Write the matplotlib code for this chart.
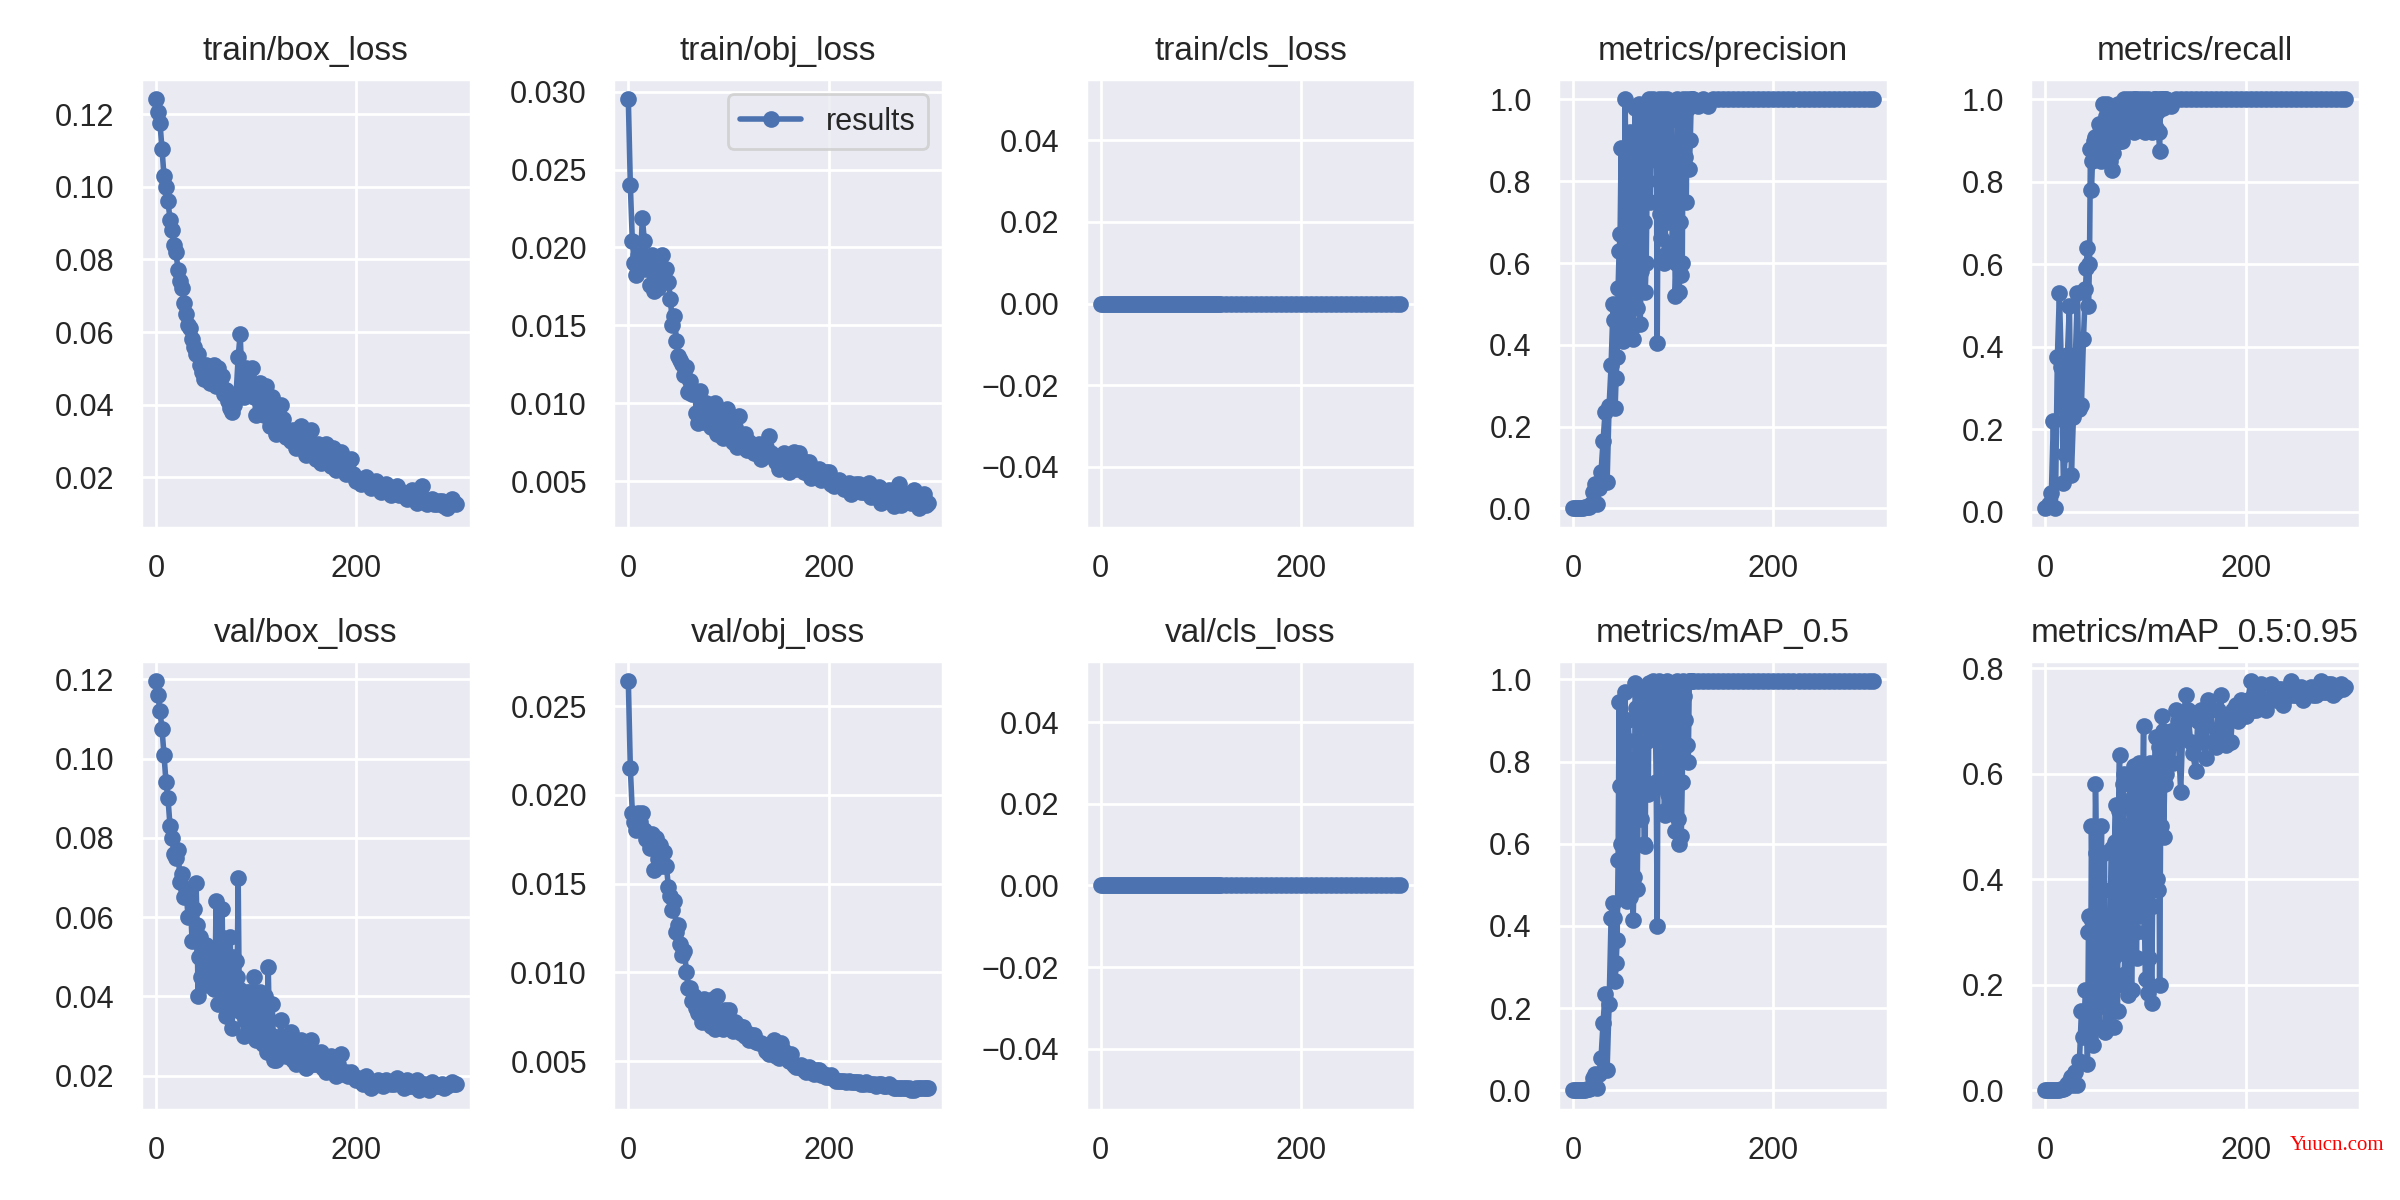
import matplotlib
matplotlib.use("Agg")
import matplotlib.pyplot as plt
import seaborn as sns

# epochs, dense while the curves are still noisy
epochs = [0, 2, 4, 6, 8, 10, 12, 14, 16, 18,
          20, 22, 24, 26, 28, 30, 32, 34, 36, 38,
          40, 42, 44, 46, 48, 50, 52, 54, 56, 58,
          60, 62, 64, 66, 68, 70, 72, 74, 76, 78,
          80, 82, 84, 86, 88, 90, 92, 94, 96, 98,
          100, 102, 104, 106, 108, 110, 112, 114, 116, 118,
          120, 125, 130, 135, 140, 145, 150, 155, 160, 165,
          170, 175, 180, 185, 190, 195, 200, 205, 210, 215,
          220, 225, 230, 235, 240, 245, 250, 255, 260, 265,
          270, 275, 280, 285, 290, 295, 299]

# extra epochs for the panels where the band is solid
odd_epochs = [41, 43, 45, 47, 49, 51, 53, 55, 57, 59,
              61, 63, 65, 67, 69, 71, 73, 75, 77, 79,
              81, 83, 85, 87, 89, 91, 93, 95, 97, 99,
              101, 103, 105, 107, 109, 111, 113, 115, 117, 119]
tail_epochs = [122, 127, 132, 137, 142, 147, 152, 157, 162, 167,
               172, 177, 182, 187, 192, 197, 202, 207, 212, 217,
               222, 227, 232, 237, 242, 247, 252, 257, 262, 267,
               272, 277, 282, 287, 292, 297]

train_box = [.1241, .1205, .1175, .1105, .103, .100, .096, .091, .088, .084,
             .082, .077, .074, .072, .068, .065, .062, .061, .058, .056,
             .054, .054, .051, .049, .047, .051, .048, .046, .050, .051,
             .045, .050, .046, .048, .043, .044, .041, .039, .038, .040,
             .043, .053, .0595, .045, .042, .050, .048, .043, .050, .042,
             .037, .042, .046, .039, .037, .045, .041, .034, .042, .036,
             .032, .040, .031, .030, .028, .034, .026, .033, .025, .024,
             .029, .023, .022, .027, .021, .025, .019, .018, .020, .017,
             .019, .016, .018, .015, .0175, .016, .014, .0165, .013, .0175,
             .0125, .014, .0125, .0135, .0116, .014, .0125]
train_box_tail = [.034, .036, .032, .033, .030, .029, .031, .027, .029, .026,
                  .025, .028, .024, .022, .024, .021, .0195, .019, .018, .0185,
                  .0175, .017, .016, .0165, .015, .015, .015, .0145, .0145, .014,
                  .013, .0125, .0135, .012, .0125, .013]

train_obj = [.0295, .0240, .0204, .0190, .0182, .0195, .0190, .0219, .0204, .0186,
             .0190, .0176, .0195, .0172, .0188, .0174, .0178, .0195, .0180, .0186,
             .0178, .0167, .0150, .0156, .0140, .0130, .0128, .0125, .0118, .0123,
             .0107, .0114, .0106, .0108, .0094, .0087, .0108, .0095, .0088, .0100,
             .0092, .0085, .0090, .0100, .0080, .0092, .0085, .0078, .0090, .0096,
             .0080, .0088, .0075, .0085, .0072, .0092, .0078, .0072, .0080, .0070,
             .0075, .0068, .0074, .0067, .0079, .0065, .0058, .0068, .0056, .0069,
             .0068, .0056, .0062, .0054, .0058, .0052, .0056, .0047, .0051, .0045,
             .0049, .0046, .0048, .0043, .0049, .0042, .0046, .0038, .0044, .0034,
             .0048, .0038, .0040, .0044, .0033, .0042, .0036]
train_obj_tail = [.0070, .0072, .0064, .0072, .0068, .0062, .0066, .0060, .0063, .0058,
                  .0060, .0062, .0052, .0056, .0051, .0056, .0048, .0050, .0047, .0047,
                  .0042, .0048, .0043, .0047, .0040, .0045, .0036, .0042, .0038, .0041,
                  .0035, .0042, .0036, .0040, .0038, .0035]

train_cls = [0] * len(epochs)

precision = [.002, .002, .002, .002, .002, .002, .003, .003, .004, .01,
             .04, .06, .01, .05, .09, .165, .235, .065, .25, .35,
             .50, .245, .37, .63, .88, .41, 1.0, .45, .88, .50,
             .415, .98, .49, .99, .58, .88, .53, .80, 1.0, .90,
             1.0, .88, .405, 1.0, .66, 1.0, .62, 1.0, .78, .99,
             .70, .52, 1.0, .53, .57, 1.0, .86, 1.0, .83, 1.0,
             1.0, .985, 1.0, .985, 1.0, 1.0, 1.0, 1.0, 1.0, 1.0,
             1.0, 1.0, 1.0, 1.0, 1.0, 1.0, 1.0, 1.0, 1.0, 1.0,
             1.0, 1.0, 1.0, 1.0, 1.0, 1.0, 1.0, 1.0, 1.0, 1.0,
             1.0, 1.0, 1.0, 1.0, 1.0, 1.0, 1.0]
precision_odd = [.46, .32, .54, .67, .50, .47, .75, .55, .92, .44,
                 .85, .60, .88, .45, .98, .70, .60, .95, .75, .98,
                 .90, .98, .85, .72, .95, .60, .98, .70, .95, .65,
                 .85, .60, .98, .70, .60, .95, .75, .98, .90, 1.0]

recall = [.01, .012, .02, .045, .22, .01, .375, .53, .35, .07,
          .14, .38, .50, .09, .23, .38, .53, .25, .26, .42,
          .54, .64, .60, .78, .88, .91, .86, .94, .85, .99,
          .87, .99, .85, .83, .95, .92, .99, .90, .90, 1.0,
          .95, 1.0, .93, 1.0, .92, 1.0, .98, 1.0, .97, 1.0,
          .93, 1.0, .96, .92, 1.0, .93, 1.0, .875, 1.0, 1.0,
          1.0, .985, 1.0, 1.0, 1.0, 1.0, 1.0, 1.0, 1.0, 1.0,
          1.0, 1.0, 1.0, 1.0, 1.0, 1.0, 1.0, 1.0, 1.0, 1.0,
          1.0, 1.0, 1.0, 1.0, 1.0, 1.0, 1.0, 1.0, 1.0, 1.0,
          1.0, 1.0, 1.0, 1.0, 1.0, 1.0, 1.0]
recall_odd = [.59, .50, .88, .85, .90, .88, .87, .92, .89, .92,
              .96, .90, .93, .87, .98, .94, .90, .97, .93, .98,
              .93, .99, .97, .93, 1.0, .96, .94, .99, .96, .92,
              .98, .94, .99, .95, 1.0, .97, .92, 1.0, .98, 1.0]

val_box = [.1195, .116, .112, .1075, .101, .094, .090, .083, .080, .076,
           .075, .077, .069, .071, .065, .067, .060, .066, .054, .062,
           .0685, .040, .055, .052, .046, .053, .044, .048, .045, .042,
           .064, .038, .052, .062, .043, .035, .050, .055, .032, .040,
           .049, .070, .037, .041, .030, .040, .035, .041, .036, .045,
           .029, .036, .041, .030, .036, .030, .0475, .026, .038, .024,
           .024, .034, .025, .031, .023, .029, .022, .029, .023, .026,
           .021, .025, .020, .0255, .021, .021, .019, .019, .020, .017,
           .0185, .018, .019, .018, .0195, .018, .019, .0175, .019, .0175,
           .017, .0185, .0175, .018, .0175, .0185, .018]
val_box_odd = [.058, .050, .045, .048, .043, .050, .047, .052, .044, .046,
               .050, .045, .055, .042, .038, .048, .036, .044, .050, .038,
               .045, .042, .036, .038, .034, .041, .033, .038, .031, .040,
               .037, .032, .034, .028, .040, .026, .034, .028, .030, .025]
val_box_tail = [.027, .026, .029, .024, .026, .024, .027, .023, .025, .022,
                .024, .021, .023, .0205, .020, .020, .0195, .018, .0185, .0175,
                .019, .0175, .0185, .018, .019, .017, .0175, .018, .0165, .018,
                .0165, .018, .0175, .017, .018, .018]

val_obj = [.0264, .0215, .0190, .0185, .0180, .0190, .0185, .0190, .0180, .0175,
           .0175, .0170, .0178, .0158, .0176, .0164, .0172, .0160, .0168, .0160,
           .0148, .0143, .0135, .0140, .0123, .0127, .0116, .0110, .0112, .0100,
           .0091, .0091, .0084, .0087, .0080, .0077, .0082, .0072, .0085, .0075,
           .0082, .0070, .0085, .0068, .0087, .0075, .0072, .0068, .0079, .0070,
           .0079, .0070, .0067, .0072, .0068, .0070, .0066, .0069, .0064, .0066,
           .0062, .0065, .0060, .0059, .0054, .0062, .0052, .0056, .0050, .0048,
           .0047, .0045, .0047, .0043, .0045, .0043, .0041, .0040, .0039, .0039,
           .0039, .0038, .0038, .0037, .0037, .0037, .0037, .0036, .0037, .0035,
           .0035, .0035, .0035, .0034, .0035, .0035, .0035]
val_obj_tail = [.0065, .0061, .0060, .0056, .0058, .0053, .0060, .0052, .0054, .0047,
                .0048, .0044, .0044, .0045, .0042, .0041, .0042, .0039, .0039, .0038,
                .0038, .0038, .0037, .0038, .0037, .0036, .0037, .0036, .0036, .0035,
                .0035, .0035, .0034, .0035, .0035, .0035]

val_cls = [0] * len(epochs)

map_50 = [.002, .002, .002, .002, .002, .002, .002, .003, .003, .005,
          .03, .04, .005, .04, .08, .165, .235, .05, .21, .42,
          .455, .265, .365, .945, .60, .47, .97, .46, .85, .55,
          .415, .99, .49, .97, .66, .85, .595, .85, .99, .97,
          .995, .93, .40, .995, .74, .99, .67, .995, .80, .99,
          .69, .63, .995, .60, .62, .995, .90, .84, .995, .995,
          .995, .995, .995, .995, .995, .995, .995, .995, .995, .995,
          .995, .995, .995, .995, .995, .995, .995, .995, .995, .995,
          .995, .995, .995, .995, .995, .995, .995, .995, .995, .995,
          .995, .995, .995, .995, .995, .995, .995]
map_50_odd = [.42, .31, .56, .74, .60, .76, .60, .90, .47, .80,
              .52, .93, .70, .98, .80, .60, .97, .72, .96, .88,
              .97, .75, .96, .85, .99, .68, .97, .72, .98, .85,
              .70, .97, .66, .98, .75, .96, .99, .80, .995, .995]

map_50_95 = [.001, .001, .001, .001, .001, .001, .001, .001, .002, .003,
             .004, .012, .015, .025, .01, .035, .01, .055, .15, .10,
             .19, .05, .33, .50, .085, .58, .30, .12, .50, .38,
             .11, .32, .12, .46, .12, .54, .15, .635, .26, .60,
             .30, .18, .55, .19, .615, .30, .55, .33, .58, .69,
             .21, .185, .62, .165, .55, .67, .38, .20, .71, .48,
             .60, .68, .72, .565, .75, .66, .605, .72, .63, .72,
             .65, .75, .655, .66, .73, .74, .71, .775, .72, .77,
             .72, .77, .74, .76, .745, .775, .75, .765, .75, .765,
             .75, .775, .755, .77, .755, .77, .765]
map_50_95_odd = [.15, .30, .10, .32, .22, .45, .20, .38, .16, .45,
                 .30, .12, .38, .25, .47, .20, .53, .30, .58, .22,
                 .50, .30, .60, .35, .52, .25, .62, .40, .55, .30,
                 .60, .25, .55, .35, .62, .40, .65, .50, .68, .58]
map_50_95_tail = [.66, .62, .70, .68, .72, .64, .70, .66, .74, .66,
                  .72, .68, .70, .72, .70, .72, .74, .72, .76, .74,
                  .74, .75, .76, .73, .76, .75, .76, .74, .76, .75,
                  .76, .755, .77, .75, .76, .76]

titles = ["train/box_loss", "train/obj_loss", "train/cls_loss", "metrics/precision", "metrics/recall",
          "val/box_loss", "val/obj_loss", "val/cls_loss", "metrics/mAP_0.5", "metrics/mAP_0.5:0.95"]
series = [(train_box, None, train_box_tail), (train_obj, None, train_obj_tail), (train_cls, None, None),
          (precision, precision_odd, None), (recall, recall_odd, None),
          (val_box, val_box_odd, val_box_tail), (val_obj, None, val_obj_tail), (val_cls, None, None),
          (map_50, map_50_odd, None), (map_50_95, map_50_95_odd, map_50_95_tail)]


def merge_points(values, odd, tail):
    pares = list(zip(epochs, values))
    if odd is not None:
        pares += list(zip(odd_epochs, odd))
    if tail is not None:
        pares += list(zip(tail_epochs, tail))
    pares.sort()
    return [p[0] for p in pares], [p[1] for p in pares]


sns.set_theme(style="darkgrid")
plt.rcParams["font.family"] = ["Liberation Sans", "DejaVu Sans"]

fig, axes = plt.subplots(2, 5, figsize=(12, 6), dpi=200)
fig.subplots_adjust(left=141 / 2400, right=2360 / 2400, top=1 - 79 / 1200, bottom=1 - 1110 / 1200,
                    wspace=0.433, hspace=0.296)

for ax, title, (values, odd, tail) in zip(axes.ravel(), titles, series):
    x, y = merge_points(values, odd, tail)
    ax.plot(x, y, marker=".", linewidth=2, markersize=10, label="results")
    ax.set_title(title, fontsize=12, pad=6.8)
    ax.set_xticks([0, 200])

axes[0, 1].legend(loc="upper right")

# watermark in the bottom right corner of the picture
fig.text(2290 / 2400, 1 - 1145 / 1200, "Yuucn.com", color="red", fontsize=7.5,
         family="Liberation Serif", va="center", ha="left")

fig.savefig("out.png", dpi=200)
plt.close(fig)
